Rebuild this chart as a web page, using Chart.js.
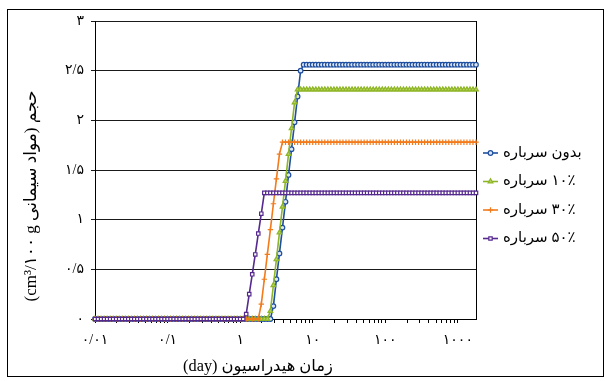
<!DOCTYPE html>
<html>
<head>
<meta charset="utf-8">
<script src="https://cdn.jsdelivr.net/npm/chart.js@4/dist/chart.umd.min.js"></script>
<style>
  html, body { margin: 0; padding: 0; background: #fff; }
  #frame { position: absolute; left: 7px; top: 9px; width: 595px; height: 366px; border: 1px solid #000; }
  #wrap { position: absolute; left: 0; top: 0; width: 610px; height: 381px; }
</style>
</head>
<body>
<div id="frame"></div>
<div id="wrap"><canvas id="c" width="610" height="381"></canvas></div>
<script>
// ---------- DATA ----------
const times = [
  0.01,0.01101,0.01212,0.01334,0.01468,0.01616,0.01778,0.01957,0.02154,0.02371,0.0261,0.02873,0.03162,0.03481,0.03831,0.04217,0.04642,0.05109,0.05623,0.0619,0.06813,0.07499,0.08254,0.09085,
  0.1,0.1101,0.1212,0.1334,0.1468,0.1616,0.1778,0.1957,0.2154,0.2371,0.261,0.2873,0.3162,0.3481,0.3831,0.4217,0.4642,0.5109,0.5623,0.619,0.6813,0.7499,0.8254,0.9085,
  1,1.101,1.212,1.334,1.468,1.616,1.778,1.957,2.154,2.371,2.61,2.873,3.162,3.481,3.831,4.217,4.642,5.109,5.623,6.19,6.813,7.499,8.254,9.085,
  10,11.01,12.12,13.34,14.68,16.16,17.78,19.57,21.54,23.71,26.1,28.73,31.62,34.81,38.31,42.17,46.42,51.09,56.23,61.9,68.13,74.99,82.54,90.85,
  100,110.1,121.2,133.4,146.8,161.6,177.8,195.7,215.4,237.1,261,287.3,316.2,348.1,383.1,421.7,464.2,510.9,562.3,619,681.3,749.9,825.4,908.5,
  1000,1101,1212,1334,1468,1616,1778
];

const seriesNames = ["بدون سرباره", "۱۰٪ سرباره", "۳۰٪ سرباره", "۵۰٪ سرباره"];

const noSlag = [
  0,0,0,0,0,0,0,0,0,0, 0,0,0,0,0,0,0,0,0,0, 0,0,0,0,0,0,0,0,0,0,
  0,0,0,0,0,0,0,0,0,0, 0,0,0,0,0,0,0,0,0,0, 0,0,0,0,0,0,0,0,0,
  0.13,0.40,0.66,0.92,1.18,1.45,1.71,1.98,2.24,2.50,
  2.56,2.56,2.56,2.56,2.56,2.56,2.56,2.56,2.56,2.56,
  2.56,2.56,2.56,2.56,2.56,2.56,2.56,2.56,2.56,2.56,
  2.56,2.56,2.56,2.56,2.56,2.56,2.56,2.56,2.56,2.56,
  2.56,2.56,2.56,2.56,2.56,2.56,2.56,2.56,2.56,2.56,
  2.56,2.56,2.56,2.56,2.56,2.56,2.56,2.56,2.56,2.56,
  2.56,2.56,2.56,2.56,2.56,2.56,2.56,2.56
];

const slag10 = [
  0,0,0,0,0,0,0,0,0,0, 0,0,0,0,0,0,0,0,0,0, 0,0,0,0,0,0,0,0,0,0,
  0,0,0,0,0,0,0,0,0,0, 0,0,0,0,0,0,0,0,0,0, 0,0,0,0,0,0,0,0,
  0.08,0.34,0.60,0.87,1.13,1.39,1.66,1.92,2.18,
  2.31,2.31,2.31,2.31,2.31,2.31,2.31,2.31,2.31,2.31,
  2.31,2.31,2.31,2.31,2.31,2.31,2.31,2.31,2.31,2.31,
  2.31,2.31,2.31,2.31,2.31,2.31,2.31,2.31,2.31,2.31,
  2.31,2.31,2.31,2.31,2.31,2.31,2.31,2.31,2.31,2.31,
  2.31,2.31,2.31,2.31,2.31,2.31,2.31,2.31,2.31,2.31,
  2.31,2.31,2.31,2.31,2.31,2.31,2.31,2.31,2.31,2.31
];

const slag30 = [
  0,0,0,0,0,0,0,0,0,0, 0,0,0,0,0,0,0,0,0,0, 0,0,0,0,0,0,0,0,0,0,
  0,0,0,0,0,0,0,0,0,0, 0,0,0,0,0,0,0,0,0,0, 0,0,0,0,0,
  0.15,0.40,0.65,0.90,1.16,1.41,1.66,
  1.78,1.78,1.78,1.78,1.78,1.78,1.78,1.78,1.78,1.78,
  1.78,1.78,1.78,1.78,1.78,1.78,1.78,1.78,1.78,1.78,
  1.78,1.78,1.78,1.78,1.78,1.78,1.78,1.78,1.78,1.78,
  1.78,1.78,1.78,1.78,1.78,1.78,1.78,1.78,1.78,1.78,
  1.78,1.78,1.78,1.78,1.78,1.78,1.78,1.78,1.78,1.78,
  1.78,1.78,1.78,1.78,1.78,1.78,1.78,1.78,1.78,1.78,
  1.78,1.78,1.78,1.78,1.78
];

const slag50 = [
  0,0,0,0,0,0,0,0,0,0, 0,0,0,0,0,0,0,0,0,0, 0,0,0,0,0,0,0,0,0,0,
  0,0,0,0,0,0,0,0,0,0, 0,0,0,0,0,0,0,0,0,0,
  0.05,0.25,0.45,0.65,0.86,1.06,
  1.27,1.27,1.27,1.27,1.27,1.27,1.27,1.27,1.27,1.27,
  1.27,1.27,1.27,1.27,1.27,1.27,1.27,1.27,1.27,1.27,
  1.27,1.27,1.27,1.27,1.27,1.27,1.27,1.27,1.27,1.27,
  1.27,1.27,1.27,1.27,1.27,1.27,1.27,1.27,1.27,1.27,
  1.27,1.27,1.27,1.27,1.27,1.27,1.27,1.27,1.27,1.27,
  1.27,1.27,1.27,1.27,1.27,1.27,1.27,1.27,1.27,1.27,
  1.27,1.27,1.27,1.27,1.27,1.27,1.27,1.27,1.27,1.27,
  1.27
];

const yTickValues = [0, 0.5, 1, 1.5, 2, 2.5, 3];
const yTickLabels = ["۰", "۰/۵", "۱", "۱/۵", "۲", "۲/۵", "۳"];

const xTickValues = [
  0.01,0.02,0.03,0.04,0.05,0.06,0.07,0.08,0.09,
  0.1,0.2,0.3,0.4,0.5,0.6,0.7,0.8,0.9,
  1,2,3,4,5,6,7,8,9,
  10,20,30,40,50,60,70,80,90,
  100,200,300,400,500,600,700,800,900,
  1000
];
const xLabelValues = [0.01, 0.1, 1, 10, 100, 1000];
const xTickLabels = ["۰/۰۱", "۰/۱", "۱", "۱۰", "۱۰۰", "۱۰۰۰"];

const xTitle = "زمان هیدراسیون (day)";
const yTitle = "حجم (مواد سیمانی cm³/۱۰۰ g)";

[noSlag, slag10, slag30, slag50].forEach((s, i) => {
  if (s.length !== times.length) throw new Error("length mismatch in series " + i + ": " + s.length + " vs " + times.length);
});

// ---------- CHART ----------
const FONT = '"Liberation Serif", "DejaVu Sans", serif';
const pts = (arr) => times.map((t, i) => ({ x: t, y: arr[i] }));

const styles = [
  { color: '#1f4fa0', fill: '#dce6f4', style: 'circle',   r: 2.3, order: 3 },
  { color: '#8db525', fill: '#b9d45e', style: 'triangle', r: 2.7, order: 2 },
  { color: '#f27b1c', fill: '#f27b1c', style: 'cross',    r: 2.7, order: 1 },
  { color: '#55298e', fill: '#ffffff', style: 'rect',     r: 2.4, order: 0 }
];
const seriesData = [noSlag, slag10, slag30, slag50];

const datasets = seriesData.map((arr, i) => ({
  label: seriesNames[i],
  data: pts(arr),
  borderColor: styles[i].color,
  backgroundColor: styles[i].fill,
  pointBackgroundColor: styles[i].fill,
  pointBorderColor: styles[i].color,
  pointStyle: styles[i].style,
  pointRadius: styles[i].r,
  pointBorderWidth: 1.2,
  borderWidth: 1.6,
  tension: 0,
  clip: false,
  order: styles[i].order
}));

function fitFont(ctx, text, basePx, target, maxPx) {
  ctx.font = basePx + 'px ' + FONT;
  const w = ctx.measureText(text).width;
  const size = Math.min(maxPx, Math.max(12, basePx * target / w));
  ctx.font = size.toFixed(2) + 'px ' + FONT;
}

const sideLegend = {
  id: 'sideLegend',
  afterDraw(chart) {
    const ctx = chart.ctx;
    chart.data.datasets.forEach((ds, i) => {
      const y = 153 + i * 28.5;
      ctx.save();
      ctx.strokeStyle = ds.borderColor;
      ctx.lineWidth = 1.6;
      ctx.beginPath(); ctx.moveTo(483, y); ctx.lineTo(498, y); ctx.stroke();
      ctx.fillStyle = ds.pointBackgroundColor;
      ctx.strokeStyle = ds.pointBorderColor;
      ctx.lineWidth = 1.2;
      Chart.helpers.drawPoint(ctx, { pointStyle: ds.pointStyle, radius: ds.pointRadius, borderWidth: 1.2, rotation: 0 }, 490.5, y);
      ctx.fillStyle = '#000';
      ctx.font = '15px ' + FONT;
      ctx.direction = 'rtl';
      ctx.textAlign = 'left';
      ctx.textBaseline = 'middle';
      ctx.fillText(ds.label, 503, y);
      ctx.restore();
    });
  }
};

const axisTitles = {
  id: 'axisTitles',
  afterDraw(chart) {
    const ctx = chart.ctx;
    ctx.save();
    ctx.fillStyle = '#000';
    ctx.direction = 'rtl';
    ctx.textAlign = 'center';
    ctx.textBaseline = 'middle';
    fitFont(ctx, xTitle, 15, 150, 17);
    ctx.fillText(xTitle, 258, 367);
    ctx.translate(32, 196);
    ctx.rotate(-Math.PI / 2);
    fitFont(ctx, yTitle, 15, 265, 17);
    ctx.fillText(yTitle, 0, 0);
    ctx.restore();
  }
};

const plotFrame = {
  id: 'plotFrame',
  beforeDatasetsDraw(chart) {
    const a = chart.chartArea, ctx = chart.ctx;
    ctx.save();
    ctx.strokeStyle = '#000';
    ctx.lineWidth = 1;
    ctx.beginPath();
    ctx.moveTo(Math.round(a.right) + 0.5, a.top);
    ctx.lineTo(Math.round(a.right) + 0.5, a.bottom);
    ctx.stroke();
    ctx.restore();
  }
};

new Chart(document.getElementById('c'), {
  type: 'line',
  data: { datasets },
  options: {
    responsive: false,
    animation: false,
    devicePixelRatio: 1,
    layout: { padding: { left: 0, top: 21, right: 134, bottom: 0 } },
    plugins: { legend: { display: false }, tooltip: { enabled: false } },
    scales: {
      x: {
        type: 'logarithmic',
        min: 0.01,
        max: 1778,
        afterBuildTicks: (s) => { s.ticks = xTickValues.map(v => ({ value: v })); },
        afterFit: (s) => { s.height = 62; },
        grid: { display: true, drawOnChartArea: false, drawTicks: true, tickLength: 4, color: '#000', lineWidth: 1 },
        border: { display: true, color: '#000', width: 1 },
        ticks: {
          autoSkip: false, maxRotation: 0, minRotation: 0, padding: 9,
          color: '#000', font: { family: FONT, size: 14 },
          callback: (v) => {
            const k = xLabelValues.findIndex(x => Math.abs(x - v) / x < 1e-6);
            return k >= 0 ? xTickLabels[k] : '';
          }
        }
      },
      y: {
        min: 0,
        max: 3,
        afterBuildTicks: (s) => { s.ticks = yTickValues.map(v => ({ value: v })); },
        afterFit: (s) => { s.width = 95; },
        grid: { color: '#1a1a1a', lineWidth: 1, tickLength: 4, drawTicks: true },
        border: { display: true, color: '#000', width: 1 },
        ticks: {
          padding: 7, color: '#000', font: { family: FONT, size: 14 },
          callback: (v) => { const k = yTickValues.indexOf(v); return k >= 0 ? yTickLabels[k] : ''; }
        }
      }
    }
  },
  plugins: [plotFrame, sideLegend, axisTitles]
});
</script>
</body>
</html>
